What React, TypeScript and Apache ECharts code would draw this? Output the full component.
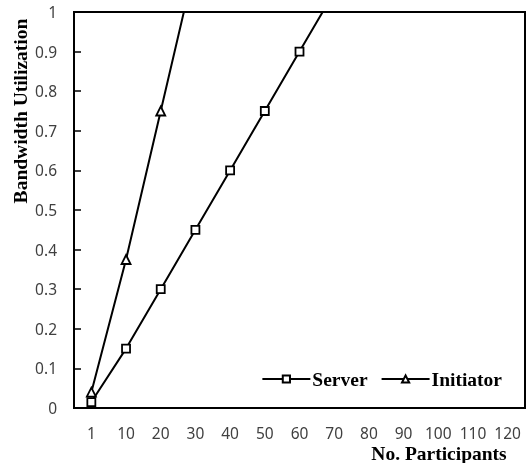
import React, { useEffect, useRef } from "react";
import * as echarts from "echarts";

const categories = ["1", "10", "20", "30", "40", "50", "60", "70", "80", "90", "100", "110", "120"];
// Server: the last value lies above the axis maximum and is clipped (line continues to the top edge)
const serverValues: (number | null)[] = [0.015, 0.15, 0.3, 0.45, 0.6, 0.75, 0.9, 1.05, null, null, null, null, null];
const serverMarked = 7; // number of points that carry a marker
// Initiator: the last value lies above the axis maximum and is clipped
const initiatorValues: (number | null)[] = [0.04, 0.375, 0.75, 1.125, null, null, null, null, null, null, null, null, null];
const initiatorMarked = 3;
const yTicks = [0, 0.1, 0.2, 0.3, 0.4, 0.5, 0.6, 0.7, 0.8, 0.9, 1];

const serif = "'Liberation Serif', 'Times New Roman', serif";
const sans = "'Noto Sans', sans-serif";

export default function App() {
  const ref = useRef<HTMLDivElement>(null);
  useEffect(() => {
    const chart = echarts.init(ref.current!, null, { renderer: "svg" });
    const toData = (vals: (number | null)[], marked: number) =>
      vals.map((v, i) => (v === null ? null : i < marked ? v : { value: v, symbol: "none" }));
    chart.setOption({
      animation: false,
      grid: {
        left: 74,
        right: 2,
        top: 12,
        bottom: 55,
        show: true,
        borderColor: "#000",
        borderWidth: 2,
        backgroundColor: "transparent",
      },
      legend: {
        right: 20,
        top: 364,
        itemWidth: 48,
        itemHeight: 9,
        itemGap: 13,
        textStyle: { fontFamily: serif, fontWeight: "bold", fontSize: 19.5, color: "#000", padding: [0, 0, 0, -3] },
        data: ["Server", "Initiator"],
      },
      xAxis: {
        type: "category",
        data: categories,
        boundaryGap: true,
        axisLine: { lineStyle: { color: "#000", width: 2 } },
        axisTick: { inside: true, length: 5, interval: 0, lineStyle: { color: "#000", width: 1.5 } },
        axisLabel: { fontFamily: sans, fontSize: 15.5, color: "#404040", margin: 17, interval: 0, hideOverlap: false },
        splitLine: { show: false },
      },
      yAxis: {
        type: "value",
        min: yTicks[0],
        max: yTicks[yTicks.length - 1],
        interval: 0.1,
        axisLine: { show: true, lineStyle: { color: "#000", width: 2 } },
        axisTick: { show: true, inside: true, length: 7, lineStyle: { color: "#000", width: 1.5 } },
        axisLabel: { fontFamily: sans, fontSize: 15.5, color: "#404040", margin: 17 },
        splitLine: { show: false },
      },
      graphic: [
        {
          type: "text",
          x: 20,
          y: 111,
          rotation: Math.PI / 2,
          style: {
            text: "Bandwidth Utilization",
            fontFamily: serif,
            fontWeight: "bold",
            fontSize: 19.5,
            fill: "#000",
            textAlign: "center",
            textVerticalAlign: "middle",
          },
        },
        {
          type: "text",
          x: 439,
          y: 453,
          style: {
            text: "No. Participants",
            fontFamily: serif,
            fontWeight: "bold",
            fontSize: 19.5,
            fill: "#000",
            textAlign: "center",
            textVerticalAlign: "middle",
          },
        },
      ],
      series: [
        {
          name: "Server",
          type: "line",
          data: toData(serverValues, serverMarked),
          clip: true,
          symbol: "rect",
          symbolSize: 8,
          showAllSymbol: true,
          lineStyle: { color: "#000", width: 2 },
          itemStyle: { color: "#fff", borderColor: "#000", borderWidth: 1.8 },
        },
        {
          name: "Initiator",
          type: "line",
          data: toData(initiatorValues, initiatorMarked),
          clip: true,
          symbol: "triangle",
          symbolSize: 9,
          showAllSymbol: true,
          lineStyle: { color: "#000", width: 2 },
          itemStyle: { color: "#fff", borderColor: "#000", borderWidth: 1.8 },
        },
      ],
    });
    return () => chart.dispose();
  }, []);
  return <div ref={ref} style={{ position: "fixed", left: 0, top: 0, width: 527, height: 463 }} />;
}
